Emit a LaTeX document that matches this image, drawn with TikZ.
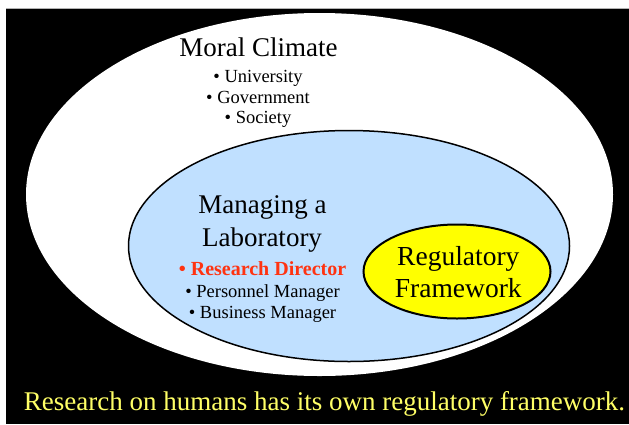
\documentclass[tikz,border=0pt]{standalone}
\usepackage{fontspec}
\setmainfont{Liberation Serif}
\usetikzlibrary{shapes.geometric}
\definecolor{bgblack}{HTML}{000000}
\definecolor{labblue}{HTML}{C0E0FF}
\definecolor{regyellow}{HTML}{FFFF00}
\definecolor{dirred}{HTML}{FF3311}
\definecolor{captionyellow}{HTML}{FFFF66}
\tikzset{
  region/.style={ellipse, inner sep=0pt},
  txt/.style={anchor=base, inner sep=0pt, text=black},
  big/.style={txt, font=\fontsize{27}{30}\selectfont},
  item/.style={txt, font=\fontsize{18.5}{21}\selectfont},
}
\begin{document}
\begin{tikzpicture}[x=1pt, y=-1pt]
\useasboundingbox (0,0) rectangle (629,424);
\fill[white] (0,0) rectangle (629,424);
\fill[bgblack] (6,8.5) rectangle (629,424);
\draw[gray!60, line width=0.8pt] (6,8.5) -- (629,8.5);
\node[region, fill=white, minimum width=587pt, minimum height=363pt] (moral) at (319.5,194.5) {};
\node[region, fill=labblue, draw=black, line width=1.5pt, minimum width=441pt, minimum height=231pt] (lab) at (349,246) {};
\node[region, fill=regyellow, draw=black, line width=2pt, minimum width=187pt, minimum height=94pt] (reg) at (457,271.5) {};
\node[big] (moraltitle) at (258.5,56) {Moral Climate};
\node[item] (univ) at (258,82) {• University};
\node[item] (gov) at (258,103) {• Government};
\node[item] (soc) at (258,123.5) {• Society};
\node[big] (lab1) at (262.5,213.5) {Managing a};
\node[big] (lab2) at (262,246.5) {Laboratory};
\node[txt, text=dirred, font=\fontsize{20}{22}\selectfont\bfseries] (dir) at (262.5,275) {• Research Director};
\node[item] (pers) at (262.5,297.5) {• Personnel Manager};
\node[item] (bus) at (262.5,318.5) {• Business Manager};
\node[txt, font=\fontsize{27.5}{30}\selectfont] (reg1) at (458.3,265) {Regulatory};
\node[txt, font=\fontsize{27.5}{30}\selectfont] (reg2) at (458.3,297.5) {Framework};
\node[txt, text=captionyellow, font=\fontsize{27}{30}\selectfont] (caption) at (324.5,410) {Research on humans has its own regulatory framework.};
\end{tikzpicture}
\end{document}
